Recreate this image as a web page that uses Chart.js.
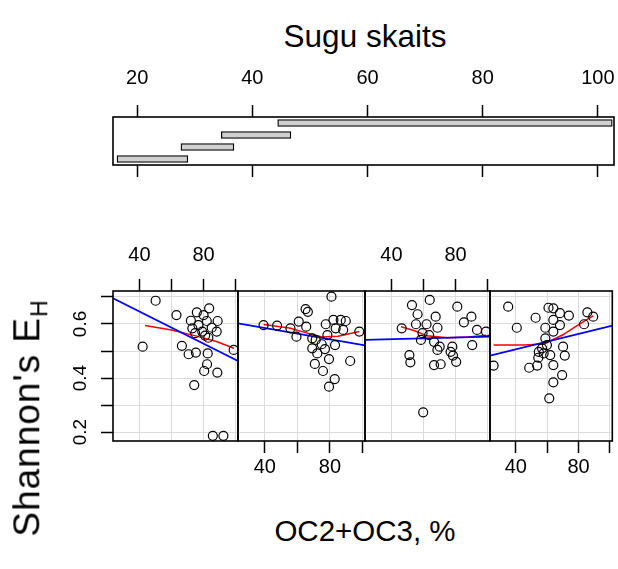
<!DOCTYPE html>
<html>
<head>
<meta charset="utf-8">
<script src="https://cdn.jsdelivr.net/npm/chart.js@4.4.1/dist/chart.umd.min.js"></script>
<style>
  body { margin:0; background:#fff; font-family:'Liberation Sans', Arial, sans-serif; }
  #wrap { position:relative; width:618px; height:569px; overflow:hidden; }
  canvas { position:absolute; }
  .ttl { position:absolute; color:#000; white-space:nowrap; transform:translate(-50%,-50%); }
</style>
</head>
<body>
<div id="wrap">
  <canvas id="given" width="618" height="130" style="left:0;top:60px"></canvas>
  <canvas id="p1" width="248" height="240" style="left:0;top:240px"></canvas>
  <canvas id="p2" width="148" height="240" style="left:228px;top:240px"></canvas>
  <canvas id="p3" width="145" height="240" style="left:355px;top:240px"></canvas>
  <canvas id="p4" width="138" height="240" style="left:480px;top:240px"></canvas>
  <div class="ttl" style="left:365px;top:36px;font-size:31.5px">Sugu skaits</div>
  <div class="ttl" style="left:365px;top:531px;font-size:29.5px">OC2+OC3, %</div>
  <div class="ttl" style="left:30px;top:418px;font-size:37px;letter-spacing:1px;transform:translate(-50%,-50%) rotate(-90deg)">Shannon's E<sub style="font-size:23px">H</sub></div>
</div>
<script>
// given variable: Sugu skaits intervals
const givenTicks = [20, 40, 60, 80, 100];
const intervalNames = ['1', '2', '3', '4'];
const intervalLo = [16.5, 27.6, 34.6, 44.4];
const intervalHi = [28.8, 36.8, 46.7, 102.5];

// panel axes
const xTicks = [20, 40, 60, 80, 100];
const xTickLabels = [40, 80];
const yTicks = [0.2, 0.3, 0.4, 0.5, 0.6, 0.7];
const yTickLabels = [0.2, 0.4, 0.6];

// panel 1
const p1x = [50.1, 63.1, 42.0, 66.5, 70.7, 75.2, 82.6, 82.2, 80.4, 88.6, 74.2, 85.8, 92.4, 98.8, 83.5, 75.8, 80.0, 72.1, 82.0, 88.8, 76.8, 85.1, 88.2, 74.8, 81.0, 83.0, 73.0, 79.2];
const p1y = [0.686, 0.633, 0.516, 0.519, 0.488, 0.494, 0.491, 0.451, 0.426, 0.420, 0.374, 0.186, 0.186, 0.504, 0.658, 0.643, 0.633, 0.612, 0.611, 0.611, 0.596, 0.586, 0.572, 0.566, 0.557, 0.549, 0.584, 0.572];
// panel 2
const p2x = [80.9, 65.0, 66.4, 39.2, 47.5, 55.7, 60.8, 59.4, 65.4, 77.4, 82.1, 86.6, 89.7, 83.5, 88.1, 98.0, 78.4, 71.2, 74.9, 83.1, 69.1, 76.9, 72.2, 79.4, 70.7, 92.4, 75.7, 82.9, 79.4, 69.1];
const p2y = [0.701, 0.655, 0.645, 0.596, 0.594, 0.584, 0.609, 0.553, 0.590, 0.599, 0.615, 0.615, 0.611, 0.584, 0.578, 0.572, 0.559, 0.541, 0.525, 0.522, 0.510, 0.507, 0.491, 0.470, 0.452, 0.463, 0.426, 0.396, 0.368, 0.547];
// panel 3
const p3x = [63.9, 52.8, 81.1, 56.3, 67.6, 89.9, 85.2, 55.3, 61.9, 46.4, 68.7, 93.4, 99.0, 59.4, 63.5, 58.4, 66.6, 90.4, 70.1, 78.0, 68.7, 76.9, 78.4, 51.2, 51.8, 80.4, 66.6, 70.7, 59.8];
const p3y = [0.689, 0.670, 0.664, 0.636, 0.627, 0.627, 0.606, 0.599, 0.599, 0.584, 0.586, 0.578, 0.572, 0.566, 0.559, 0.541, 0.534, 0.522, 0.516, 0.516, 0.504, 0.497, 0.483, 0.485, 0.458, 0.460, 0.448, 0.451, 0.273];
// panel 4
const p4x = [35.1, 40.6, 52.6, 25.8, 60.8, 63.9, 68.1, 73.8, 63.9, 68.1, 58.8, 63.9, 85.6, 89.3, 83.5, 58.8, 70.1, 54.6, 57.7, 61.9, 71.2, 54.3, 53.6, 48.5, 63.9, 69.5, 63.9, 61.3, 56.7, 59.8];
const p4y = [0.664, 0.586, 0.623, 0.446, 0.660, 0.658, 0.640, 0.631, 0.615, 0.596, 0.586, 0.572, 0.643, 0.627, 0.599, 0.547, 0.516, 0.497, 0.491, 0.485, 0.483, 0.475, 0.446, 0.438, 0.448, 0.411, 0.384, 0.325, 0.510, 0.522];

// straight fits (blue), ends of the panel range
const lmX = [23.5, 101.5];
const lm1 = [0.695, 0.463];
const lm2 = [0.602, 0.521];
const lm3 = [0.541, 0.553];
const lm4 = [0.483, 0.594];

// smooth fits (red)
const r1x = [43.5, 60, 75, 88, 99];
const r1y = [0.594, 0.578, 0.556, 0.535, 0.510];
const r2x = [39.2, 55, 65, 75, 85, 98];
const r2y = [0.598, 0.585, 0.568, 0.552, 0.555, 0.572];
const r3x = [46, 55, 62, 75, 88, 99];
const r3y = [0.590, 0.574, 0.556, 0.549, 0.552, 0.558];
const r4x = [25.8, 45, 58, 70, 80, 89.3];
const r4y = [0.522, 0.522, 0.526, 0.560, 0.598, 0.630];

const FONT = "'Liberation Sans', Arial, sans-serif";
const xMin = 23.5, xMax = 101.5, yMin = 0.167, yMax = 0.722;
const pts = (xs, ys) => xs.map((x, i) => ({x, y: ys[i]}));
const noSidePad = s => { s.paddingLeft = 0; s.paddingRight = 0; };

const boxPlugin = {
  id: 'box',
  afterDatasetsDraw(chart) {
    const {ctx, chartArea: a} = chart;
    ctx.save();
    ctx.strokeStyle = '#000';
    ctx.lineWidth = 1.6;
    ctx.strokeRect(a.left, a.top, a.right - a.left, a.bottom - a.top);
    ctx.restore();
  }
};

// y labels in R style: parallel to the axis
const yLabelPlugin = {
  id: 'ylab',
  afterDraw(chart) {
    const {ctx} = chart;
    const s = chart.scales.y;
    ctx.save();
    ctx.fillStyle = '#000';
    ctx.font = '19px ' + FONT;
    ctx.textAlign = 'center';
    ctx.textBaseline = 'middle';
    yTickLabels.forEach(v => {
      ctx.save();
      ctx.translate(s.right - 32, s.getPixelForValue(v));
      ctx.rotate(-Math.PI / 2);
      ctx.fillText(v.toFixed(1), 0, 0);
      ctx.restore();
    });
    ctx.restore();
  }
};

Chart.defaults.animation = false;
Chart.defaults.font.family = FONT;

new Chart(document.getElementById('given'), {
  type: 'bar',
  data: {
    labels: intervalNames,
    datasets: [{
      data: intervalLo.map((lo, i) => [lo, intervalHi[i]]),
      backgroundColor: '#d0d0d0',
      borderColor: '#000',
      borderWidth: 1.3,
      borderSkipped: false,
      barThickness: 7
    }]
  },
  options: {
    indexAxis: 'y',
    responsive: false,
    layout: {padding: {left: 113, right: 4, top: 0, bottom: 0}},
    plugins: {legend: {display: false}, tooltip: {enabled: false}},
    scales: {
      x: {
        type: 'linear', position: 'top', min: 15.8, max: 102.8,
        afterBuildTicks: s => { s.ticks = givenTicks.map(v => ({value: v})); },
        afterFit: s => { s.height = 57; noSidePad(s); },
        grid: {drawOnChartArea: false, tickColor: '#000', tickLength: 12, tickWidth: 1.5},
        border: {display: false},
        ticks: {color: '#000', font: {size: 20}, padding: 15, maxRotation: 0, autoSkip: false}
      },
      x2: {
        type: 'linear', position: 'bottom', min: 15.8, max: 102.8,
        afterBuildTicks: s => { s.ticks = givenTicks.map(v => ({value: v})); },
        afterFit: s => { s.height = 25; noSidePad(s); },
        grid: {drawOnChartArea: false, tickColor: '#000', tickLength: 12, tickWidth: 1.5},
        border: {display: false},
        ticks: {display: false}
      },
      y: {type: 'category', display: false, reverse: true, offset: true}
    }
  },
  plugins: [boxPlugin]
});

function panel(id, px, py, lm, rx, ry, side, showY, padL, padR) {
  const plugins = [boxPlugin];
  if (showY) plugins.push(yLabelPlugin);
  new Chart(document.getElementById(id), {
    type: 'scatter',
    data: {
      datasets: [
        {data: pts(px, py), pointRadius: 4.5, pointBorderWidth: 1.2, borderColor: '#000', backgroundColor: 'rgba(0,0,0,0)'},
        {data: pts(lmX, lm), showLine: true, pointRadius: 0, borderColor: '#0000ff', borderWidth: 1.7},
        {data: pts(rx, ry), showLine: true, pointRadius: 0, borderColor: '#ff0000', borderWidth: 1.5}
      ]
    },
    options: {
      responsive: false,
      layout: {padding: {
        top: side === 'top' ? 0 : 51, bottom: side === 'bottom' ? 0 : 39,
        left: padL, right: padR
      }},
      plugins: {legend: {display: false}, tooltip: {enabled: false}},
      scales: {
        x: {
          type: 'linear', position: side, min: xMin, max: xMax,
          afterBuildTicks: s => { s.ticks = xTicks.filter(v => v >= xMin && v <= xMax).map(v => ({value: v})); },
          afterFit: s => { s.height = side === 'top' ? 51 : 39; noSidePad(s); },
          grid: {color: '#dcdcdc', lineWidth: 1, tickColor: '#000', tickLength: 12, tickWidth: 1.5},
          border: {display: false},
          ticks: {
            color: '#000', font: {size: 20}, maxRotation: 0, autoSkip: false,
            padding: side === 'top' ? 12 : 2,
            callback: v => xTickLabels.includes(v) ? String(v) : ''
          }
        },
        y: {
          type: 'linear', min: yMin, max: yMax,
          afterBuildTicks: s => { s.ticks = yTicks.map(v => ({value: v})); },
          afterFit: s => { s.width = showY ? 113 : 0; },
          grid: {color: '#dcdcdc', lineWidth: 1, tickColor: '#000', tickLength: 12, tickWidth: 1.5, drawTicks: showY},
          border: {display: false},
          ticks: {display: false}
        }
      }
    },
    plugins
  });
}

panel('p1', p1x, p1y, lm1, r1x, r1y, 'top', true, 0, 10);
panel('p2', p2x, p2y, lm2, r2x, r2y, 'bottom', false, 10, 11);
panel('p3', p3x, p3y, lm3, r3x, r3y, 'top', false, 10, 10);
panel('p4', p4x, p4y, lm4, r4x, r4y, 'bottom', false, 10, 4);
</script>
</body>
</html>
